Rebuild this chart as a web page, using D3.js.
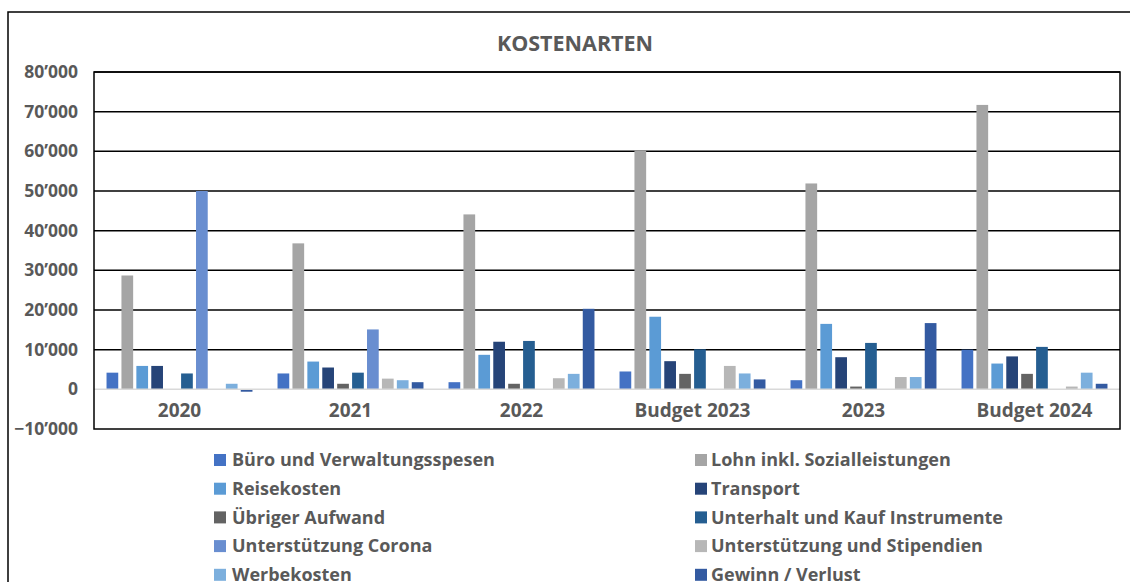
<!DOCTYPE html>
<html>
<head>
<meta charset="utf-8">
<script src="https://cdn.jsdelivr.net/npm/d3@7"></script>
<style>
  body { margin: 0; background: #fff; }
  text { font-family: "Open Sans", sans-serif; font-weight: bold; fill: #595959; }
</style>
</head>
<body>
<svg id="chart" width="1130" height="582"></svg>
<script>
// categories (x axis)
const categories = ["2020", "2021", "2022", "Budget 2023", "2023", "Budget 2024"];

// series names in legend order
const series = [
  "Büro und Verwaltungsspesen",
  "Lohn inkl. Sozialleistungen",
  "Reisekosten",
  "Transport",
  "Übriger Aufwand",
  "Unterhalt und Kauf Instrumente",
  "Unterstützung Corona",
  "Unterstützung und Stipendien",
  "Werbekosten",
  "Gewinn / Verlust"
];

// values per series, one per category
const bueroVerwaltung = [4200, 4000, 1800, 4500, 2300, 10000];
const lohn = [28700, 36800, 44100, 60200, 51900, 71700];
const reisekosten = [5900, 7000, 8700, 18300, 16500, 6500];
const transport = [5900, 5500, 12000, 7100, 8100, 8300];
const uebrigerAufwand = [0, 1400, 1400, 3900, 700, 3900];
const unterhaltInstrumente = [4000, 4200, 12200, 10100, 11700, 10700];
const unterstuetzungCorona = [50000, 15100, 0, 0, 0, 0];
const stipendien = [0, 2700, 2800, 5900, 3100, 700];
const werbekosten = [1400, 2300, 3900, 4000, 3100, 4200];
const gewinnVerlust = [-600, 1800, 20300, 2500, 16700, 1400];

const yTicks = [-10000, 0, 10000, 20000, 30000, 40000, 50000, 60000, 70000, 80000];

const colors = ["#4472C4", "#A5A5A5", "#5B9BD5", "#264478", "#636363",
                "#255E91", "#698ED0", "#B7B7B7", "#7CAFDD", "#335AA1"];

const allValues = [bueroVerwaltung, lohn, reisekosten, transport, uebrigerAufwand,
  unterhaltInstrumente, unterstuetzungCorona, stipendien, werbekosten, gewinnVerlust];

let data = categories.map((c, i) => {
  return { name: c, values: series.map((s, j) => ({ key: s, value: allValues[j][i] })) };
});

let svg = d3.select('#chart');
let margin = { top: 72, right: 10, bottom: 153, left: 94 };
let width = 1120 - margin.left;
let height = 429 - margin.top;

// outer frame
svg.append("path")
  .attr("d", "M8,590 L8,12 L1140,12")
  .attr("fill", "none")
  .attr("stroke", "#000")
  .attr("stroke-width", 1.5);

svg.append("text")
  .attr("x", 575)
  .attr("y", 43)
  .attr("dy", "0.35em")
  .attr("text-anchor", "middle")
  .attr("font-size", 21.5)
  .text("KOSTENARTEN");

let g = svg.append("g").attr("transform", "translate(" + margin.left + "," + margin.top + ")");

let x0 = d3.scaleBand().domain(categories).range([0, width]);
let x1 = d3.scaleBand().domain(series).range([0, x0.bandwidth()])
  .paddingInner(0.215).paddingOuter(0.84);
let y = d3.scaleLinear().domain([-10000, 80000]).range([height, 0]);

// gridlines
g.append("g")
  .selectAll("line")
  .data(yTicks.filter(d => d !== 0 && d !== -10000))
  .enter().append("line")
  .attr("x1", 0)
  .attr("x2", width)
  .attr("y1", d => y(d))
  .attr("y2", d => y(d))
  .attr("stroke", "#000")
  .attr("stroke-width", 1.5);

// bars
g.append("g")
  .selectAll("g")
  .data(data)
  .enter().append("g")
  .attr("transform", d => "translate(" + x0(d.name) + ",0)")
  .selectAll("rect")
  .data(d => d.values)
  .enter().append("rect")
  .attr("x", d => x1(d.key))
  .attr("y", d => y(Math.max(0, d.value)))
  .attr("width", x1.bandwidth())
  .attr("height", d => Math.abs(y(d.value) - y(0)))
  .attr("fill", (d, i) => colors[i]);

// zero line
g.append("line")
  .attr("x1", 0)
  .attr("x2", width)
  .attr("y1", y(0))
  .attr("y2", y(0))
  .attr("stroke", "#D9D9D9")
  .attr("stroke-width", 1.5);

// plot border
g.append("rect")
  .attr("x", 0)
  .attr("y", 0)
  .attr("width", width)
  .attr("height", height)
  .attr("fill", "none")
  .attr("stroke", "#000")
  .attr("stroke-width", 1.5);

// y axis labels
let fmt = v => d3.format(",")(v).replace(/,/g, "’");
g.append("g")
  .selectAll("text")
  .data(yTicks)
  .enter().append("text")
  .attr("x", -16)
  .attr("y", d => y(d))
  .attr("dy", "0.35em")
  .attr("text-anchor", "end")
  .attr("font-size", 17.5)
  .text(d => fmt(d));

// category labels
g.append("g")
  .selectAll("text")
  .data(categories)
  .enter().append("text")
  .attr("x", d => x0(d) + x0.bandwidth() / 2)
  .attr("y", (y(0) + height) / 2 + 1)
  .attr("dy", "0.35em")
  .attr("text-anchor", "middle")
  .attr("font-size", 19)
  .text(d => d);

// legend, two columns
let legend = svg.append("g")
  .selectAll("g")
  .data(series)
  .enter().append("g")
  .attr("transform", (d, i) => "translate(" + (i % 2 === 0 ? 214 : 695) + "," + (460 + Math.floor(i / 2) * 28.7) + ")");

legend.append("rect")
  .attr("x", 0)
  .attr("y", -6)
  .attr("width", 12)
  .attr("height", 12)
  .attr("fill", (d, i) => colors[i]);

legend.append("text")
  .attr("x", (d, i) => i % 2 === 0 ? 18 : 16)
  .attr("y", 0)
  .attr("dy", "0.35em")
  .attr("font-size", 18)
  .text(d => d);
</script>
</body>
</html>
